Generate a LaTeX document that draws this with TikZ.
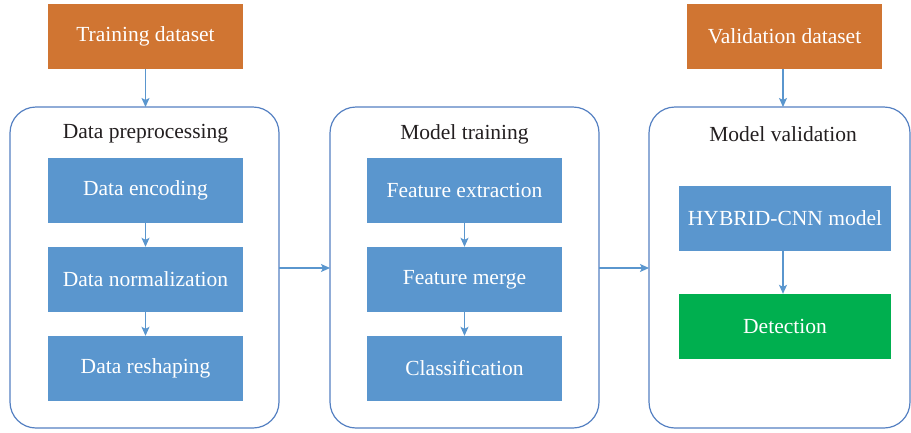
\documentclass[tikz,border=0pt]{standalone}
\usepackage{fontspec}
\setmainfont{Liberation Serif}
\usetikzlibrary{arrows.meta}
\definecolor{dsorange}{HTML}{D07532}
\definecolor{stepblue}{HTML}{5A96CE}
\definecolor{detgreen}{HTML}{00AF4F}
\definecolor{frameblue}{HTML}{5480C2}
\definecolor{arrowblue}{HTML}{5A96CE}
\definecolor{titlegray}{HTML}{231F20}
\tikzset{
  dataset/.style={fill=dsorange, text=white, minimum width=195pt, minimum height=65pt, inner sep=0pt, font=\fontsize{21.5}{24}\selectfont},
  stepbox/.style={fill=stepblue, text=white, minimum width=195pt, minimum height=65pt, inner sep=0pt, font=\fontsize{21.5}{24}\selectfont},
  stage/.style={draw=frameblue, line width=1.2pt, rounded corners=26pt, inner sep=0pt},
  stagetitle/.style={text=titlegray, font=\fontsize{21.5}{24}\selectfont},
  flow/.style={draw=arrowblue, line width=1.2pt, -{Stealth[length=9pt,width=8pt,inset=2pt]}}
}
\begin{document}
\begin{tikzpicture}[x=1pt, y=-1pt]
\useasboundingbox (0,0) rectangle (911,432);

% stage frames
\draw[stage] (10,107) rectangle (279,428);
\draw[stage] (330,107) rectangle (599,428);
\draw[stage] (649,107) rectangle (910,428);
\coordinate (s1top) at (145.5,107);
\coordinate (s3top) at (783,107);
\coordinate (s1right) at (279,268);
\coordinate (s2left) at (330,268);
\coordinate (s2right) at (599,268);
\coordinate (s3left) at (649,268);

% stage titles
\node[stagetitle] (t1) at (145.5,134) {Data preprocessing};
\node[stagetitle] (t2) at (464.5,134) {Model training};
\node[stagetitle] (t3) at (783,134) {Model validation};

% data sources
\node[dataset] (train) at (145.5,36.5) {Training dataset};
\node[dataset] (valid) at (784.5,36.5) {Validation dataset};

% preprocessing steps
\node[stepbox] (enc) at (145.5,190.5) {Data encoding};
\node[stepbox] (norm) at (145.5,279.5) {Data normalization};
\node[stepbox] (resh) at (145.5,368.5) {Data reshaping};

% training steps
\node[stepbox] (fext) at (464.5,190.5) {Feature extraction};
\node[stepbox] (fmerge) at (464.5,279.5) {Feature merge};
\node[stepbox] (cls) at (464.5,368.5) {Classification};

% validation steps
\node[stepbox, minimum width=212pt] (hyb) at (785,218.5) {HYBRID-CNN model};
\node[stepbox, minimum width=212pt, fill=detgreen] (det) at (785,326.5) {Detection};

% connectors
\draw[flow] (train) -- (s1top);
\draw[flow] (valid.south -| s3top) -- (s3top);
\draw[flow] (enc) -- (norm);
\draw[flow] (norm) -- (resh);
\draw[flow] (fext) -- (fmerge);
\draw[flow] (fmerge) -- (cls);
\draw[flow] (hyb.south -| s3top) -- (det.north -| s3top);
\draw[flow] (s1right) -- (s2left);
\draw[flow] (s2right) -- (s3left);
\end{tikzpicture}
\end{document}
